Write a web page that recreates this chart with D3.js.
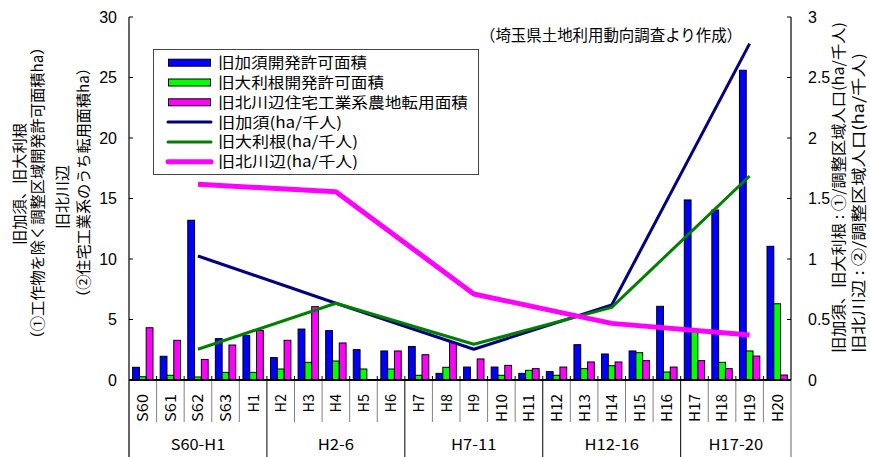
<!DOCTYPE html>
<html><head><meta charset="utf-8">
<script src="https://cdn.jsdelivr.net/npm/d3@7"></script>
<style>body{margin:0;background:#fff}svg{display:block}</style>
</head><body>
<svg id="c" width="870" height="457"></svg>
<script>
const categories = ["S60","S61","S62","S63","H1","H2","H3","H4","H5","H6","H7","H8","H9","H10","H11","H12","H13","H14","H15","H16","H17","H18","H19","H20"];
const groups = [
  {label:"S60-H1", from:"S60", to:"H1"},
  {label:"H2-6", from:"H2", to:"H6"},
  {label:"H7-11", from:"H7", to:"H11"},
  {label:"H12-16", from:"H12", to:"H16"},
  {label:"H17-20", from:"H17", to:"H20"}
];
const kazoArea = [1.05,1.96,13.2,3.42,3.69,1.85,4.21,4.08,2.51,2.4,2.77,0.55,1.07,1.07,0.55,0.69,2.92,2.15,2.4,6.09,14.88,14.05,25.6,11.05];
const ohtoneArea = [0.27,0.39,0.25,0.63,0.63,0.91,1.46,1.57,0.91,0.91,0.39,1.05,0,0.39,0.8,0.39,0.94,1.18,2.26,0.66,4.07,1.46,2.4,6.3];
const kitaArea = [4.32,3.28,1.7,2.89,4.1,3.28,6.06,3.06,0,2.4,2.09,3.1,1.74,1.21,0.94,1.07,1.49,1.49,1.6,1.07,1.6,0.94,1.98,0.41];
const lineCats = ["S62","H4","H9","H14","H19"];
const kazoRate = [1.025,0.634,0.254,0.62,2.78];
const ohtoneRate = [0.254,0.634,0.295,0.6,1.686];
const kitaRate = [1.617,1.556,0.711,0.468,0.372];
const leftTicks = [0,5,10,15,20,25,30];
const rightTicks = [0,0.5,1,1.5,2,2.5,3];
const barNames = ["旧加須開発許可面積","旧大利根開発許可面積","旧北川辺住宅工業系農地転用面積"];
const lineNames = ["旧加須(ha/千人)","旧大利根(ha/千人)","旧北川辺(ha/千人)"];

const svg = d3.select("#c");
const L=129, R=791, T=17, B=380;
const x = d3.scaleBand().domain(categories).range([L,R]).padding(0);
const x1 = d3.scaleBand().domain([0,1,2]).range([0,x.bandwidth()]).paddingInner(0).paddingOuter(0.53);
const yL = d3.scaleLinear().domain([0,30]).range([B,T]);
const yR = d3.scaleLinear().domain([0,3]).range([B,T]);
const barColors = ["#0000ff","#00ff00","#ff00ff"];
const lineColors = ["#000080","#008000","#ff00ff"];
const lineWidths = [3,3,5];
const jp = "'Noto Sans CJK JP', sans-serif";

// bars
const barSeries = [kazoArea, ohtoneArea, kitaArea];
barSeries.forEach((vals,si)=>{
  svg.append("g").selectAll("rect").data(categories.map((c,i)=>({c,v:vals[i]})).filter(d=>d.v>0))
    .join("rect")
    .attr("x",d=>x(d.c)+x1(si))
    .attr("width",x1.bandwidth())
    .attr("y",d=>yL(d.v))
    .attr("height",d=>B-yL(d.v))
    .attr("fill",barColors[si]).attr("stroke","#000").attr("stroke-width",1);
});

// lines
const rateSeries=[kazoRate, ohtoneRate, kitaRate];
const lineGen = d3.line().x(d=>x(d.c)+x.bandwidth()/2).y(d=>yR(d.v));
rateSeries.forEach((vals,si)=>{
  svg.append("path").datum(lineCats.map((c,i)=>({c,v:vals[i]})))
    .attr("d",lineGen).attr("fill","none")
    .attr("stroke",lineColors[si]).attr("stroke-width",lineWidths[si]).attr("stroke-linejoin","round");
});

// category separators
categories.forEach((c,i)=>{
  if(i===0) return;
  const xx = x(c);
  const isGroup = groups.some(g=>g.from===c);
  svg.append("line").attr("x1",xx).attr("x2",xx).attr("y1",B-4).attr("y2",B).attr("stroke","#000");
  svg.append("line").attr("x1",xx).attr("x2",xx).attr("y1",B).attr("y2",isGroup?457:422)
    .attr("stroke",isGroup?"#000":"#808080").attr("stroke-width",1);
});
// left axis
svg.append("line").attr("x1",L).attr("x2",L).attr("y1",T).attr("y2",457).attr("stroke","#000").attr("stroke-width",1.2);
// right axis
svg.append("line").attr("x1",R).attr("x2",R).attr("y1",T).attr("y2",B).attr("stroke","#000").attr("stroke-width",1.2);
svg.append("line").attr("x1",R).attr("x2",R).attr("y1",B).attr("y2",457).attr("stroke","#808080").attr("stroke-width",1.2);
// baseline
svg.append("line").attr("x1",L).attr("x2",R).attr("y1",B).attr("y2",B).attr("stroke","#000").attr("stroke-width",2);

// left ticks
leftTicks.forEach(t=>{
  svg.append("line").attr("x1",L).attr("x2",L+4).attr("y1",yL(t)).attr("y2",yL(t)).attr("stroke","#000");
  svg.append("text").attr("x",117).attr("y",yL(t)).attr("dy","0.36em").attr("text-anchor","end")
    .attr("font-family","'Liberation Sans', Arial, sans-serif").attr("font-size",16).text(t);
});
rightTicks.forEach(t=>{
  svg.append("line").attr("x1",R-4).attr("x2",R).attr("y1",yR(t)).attr("y2",yR(t)).attr("stroke","#000");
  svg.append("text").attr("x",808).attr("y",yR(t)).attr("dy","0.36em").attr("text-anchor","start")
    .attr("font-family","'Liberation Sans', Arial, sans-serif").attr("font-size",16).text(t);
});

// category labels
categories.forEach(c=>{
  const cx = x(c)+x.bandwidth()/2;
  svg.append("text").attr("transform",`translate(${cx},394) rotate(-90)`)
    .attr("text-anchor","end").attr("dy","0.36em")
    .attr("font-family",jp).attr("font-size",15)
    .attr("textLength",c.length*9.3).attr("lengthAdjust","spacingAndGlyphs").text(c);
});
// group labels
groups.forEach(g=>{
  const cx = (x(g.from)+x(g.to)+x.bandwidth())/2;
  svg.append("text").attr("x",cx).attr("y",445).attr("dy","0.36em").attr("text-anchor","middle")
    .attr("font-family",jp).attr("font-size",15)
    .attr("textLength",g.label.length*9.1).attr("lengthAdjust","spacingAndGlyphs").text(g.label);
});

// rotated titles
function vtext(txt,cx,cy,len){
  svg.append("text").attr("transform",`translate(${cx},${cy}) rotate(-90)`)
    .attr("text-anchor","middle").attr("dy","0.36em")
    .attr("font-family",jp).attr("font-size",15)
    .attr("textLength",len).attr("lengthAdjust","spacingAndGlyphs").text(txt);
}
vtext("旧加須、旧大利根",20,184,122);
vtext("（①工作物を除く調整区域開発許可面積ha）",37.5,193,307);
vtext("旧北川辺",62.5,197,64);
vtext("（②住宅工業系のうち転用面積ha）",83.5,182.5,245);
vtext("旧加須、旧大利根 : ①/調整区域人口(ha/千人)",839,187.5,331);
vtext("旧北川辺 : ②/調整区域人口(ha/千人)",858.5,203,300);

// annotation
svg.append("text").attr("x",480).attr("y",35).attr("dy","0.36em")
  .attr("font-family",jp).attr("font-size",15.5)
  .attr("textLength",262).attr("lengthAdjust","spacingAndGlyphs").text("（埼玉県土地利用動向調査より作成）");

// legend
const lg = svg.append("g");
lg.append("rect").attr("x",153.5).attr("y",49.5).attr("width",325).attr("height",125)
  .attr("fill","#fff").attr("stroke","#444").attr("stroke-width",1);
const legLens = [149,166,250,124,140,140];
const items = barNames.map((n,i)=>({n,type:"bar",i})).concat(lineNames.map((n,i)=>({n,type:"line",i})));
items.forEach((it,k)=>{
  const yy = 62.7 + k*19.8;
  if(it.type==="bar"){
    lg.append("rect").attr("x",168.5).attr("y",yy-3.5).attr("width",42).attr("height",7)
      .attr("fill",barColors[it.i]).attr("stroke","#000").attr("stroke-width",1);
  } else {
    lg.append("line").attr("x1",168).attr("x2",211).attr("y1",yy).attr("y2",yy)
      .attr("stroke",lineColors[it.i]).attr("stroke-width",lineWidths[it.i]).attr("stroke-linecap","round");
  }
  lg.append("text").attr("x",218).attr("y",yy).attr("dy","0.36em")
    .attr("font-family",jp).attr("font-size",15)
    .attr("textLength",legLens[k]).attr("lengthAdjust","spacingAndGlyphs").text(it.n);
});
</script>
</body></html>
